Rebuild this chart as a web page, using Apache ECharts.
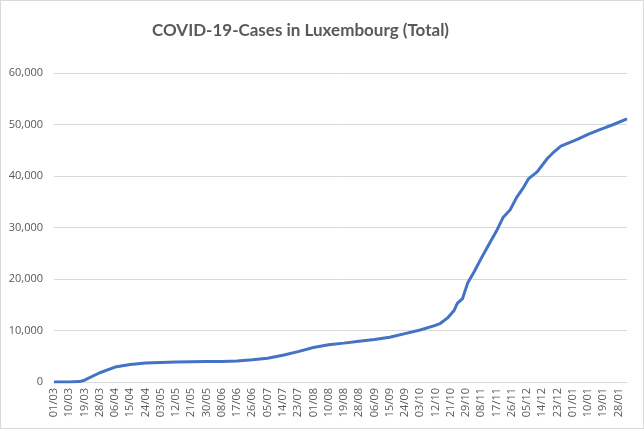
<!DOCTYPE html>
<html>
<head>
<meta charset="utf-8">
<script src="https://cdn.jsdelivr.net/npm/echarts@6/dist/echarts.min.js"></script>
<style>
  html, body { margin: 0; padding: 0; background: #fff; }
  #cht { width: 644px; height: 429px; box-sizing: border-box; border: 1px solid #d9d9d9; }
</style>
</head>
<body>
<div id="cht"></div>
<script>
// first and last day on the axis
const firstDay = '2020-03-01';
const lastDay = '2021-02-02';

// labels printed under the axis, one every 9 days (as in the source sheet)
const tickLabels = [
  '01/03', '10/03', '19/03', '28/03', '06/04', '15/04', '24/04', '03/05',
  '12/05', '21/05', '30/05', '08/06', '17/06', '26/06', '05/07', '14/07',
  '23/07', '01/08', '10/08', '19/08', '28/08', '06/09', '15/09', '24/09',
  '03/10', '12/10', '21/10', '29/10', '08/11', '17/11', '26/11', '05/12',
  '14/12', '23/12', '01/01', '10/01', '19/01', '28/01',
];
const tickEvery = 9;

const sampleDays = [
  '01/03', '10/03', '16/03', '19/03', '28/03', '06/04', '15/04', '24/04',
  '03/05', '12/05', '21/05', '30/05', '08/06', '17/06', '26/06', '05/07',
  '14/07', '23/07', '01/08', '10/08', '19/08', '28/08', '06/09', '15/09',
  '24/09', '03/10', '12/10', '15/10', '19/10', '23/10', '25/10', '28/10',
  '31/10', '04/11', '08/11', '13/11', '17/11', '21/11', '25/11', '29/11',
  '03/12', '06/12', '11/12', '17/12', '21/12', '25/12', '30/12', '04/01',
  '10/01', '17/01', '25/01', '02/02',
];
const totalCases = [
  0, 0, 80, 350, 1800, 2900, 3400, 3700,
  3800, 3900, 3950, 4000, 4000, 4100, 4300, 4600,
  5200, 5900, 6700, 7250, 7550, 7900, 8250, 8700,
  9400, 10100, 11000, 11400, 12400, 13900, 15300, 16200,
  19200, 21500, 24000, 27000, 29300, 32000, 33400, 35900,
  37800, 39500, 40800, 43400, 44700, 45800, 46500, 47150,
  48100, 49000, 50000, 51100,
];

const yTicks = { min: 0, max: 60000, step: 10000 };

const pad = (n) => String(n).padStart(2, '0');
const categories = [];
for (let d = new Date(firstDay + 'T12:00:00Z'); d <= new Date(lastDay + 'T12:00:00Z'); d.setUTCDate(d.getUTCDate() + 1)) {
  categories.push(pad(d.getUTCDate()) + '/' + pad(d.getUTCMonth() + 1));
}

const cht = echarts.init(document.getElementById('cht'));

const option = {
  animation: false,
  title: {
    text: 'COVID-19-Cases in Luxembourg (Total)',
    left: 146,
    top: 16,
    textStyle: {
      fontFamily: 'Lato',
      fontSize: 17,
      fontWeight: 'bold',
      color: '#595959',
    },
  },
  grid: {
    left: 53,
    right: 16,
    top: 72,
    bottom: 46,
  },
  xAxis: {
    type: 'category',
    boundaryGap: false,
    data: categories,
    axisLine: { lineStyle: { color: '#d9d9d9', width: 1 } },
    axisTick: { show: false },
    axisLabel: {
      interval: tickEvery - 1,
      rotate: 90,
      margin: 6,
      color: '#595959',
      fontFamily: 'Open Sans',
      fontSize: 11,
      formatter: (value, index) => tickLabels[Math.round(index / tickEvery)] || value,
    },
  },
  yAxis: {
    type: 'value',
    min: yTicks.min,
    max: yTicks.max,
    interval: yTicks.step,
    axisLine: { show: false },
    axisTick: { show: false },
    splitLine: { lineStyle: { color: '#d9d9d9', width: 1 } },
    axisLabel: {
      margin: 11,
      color: '#595959',
      fontFamily: 'Open Sans',
      fontSize: 11,
      formatter: (v) => v.toLocaleString('en-US'),
    },
  },
  series: [
    {
      type: 'line',
      data: sampleDays.map((day, i) => [day, totalCases[i]]),
      showSymbol: false,
      lineStyle: { color: '#4472c4', width: 3 },
      itemStyle: { color: '#4472c4' },
    },
  ],
};

cht.setOption(option);
</script>
</body>
</html>
